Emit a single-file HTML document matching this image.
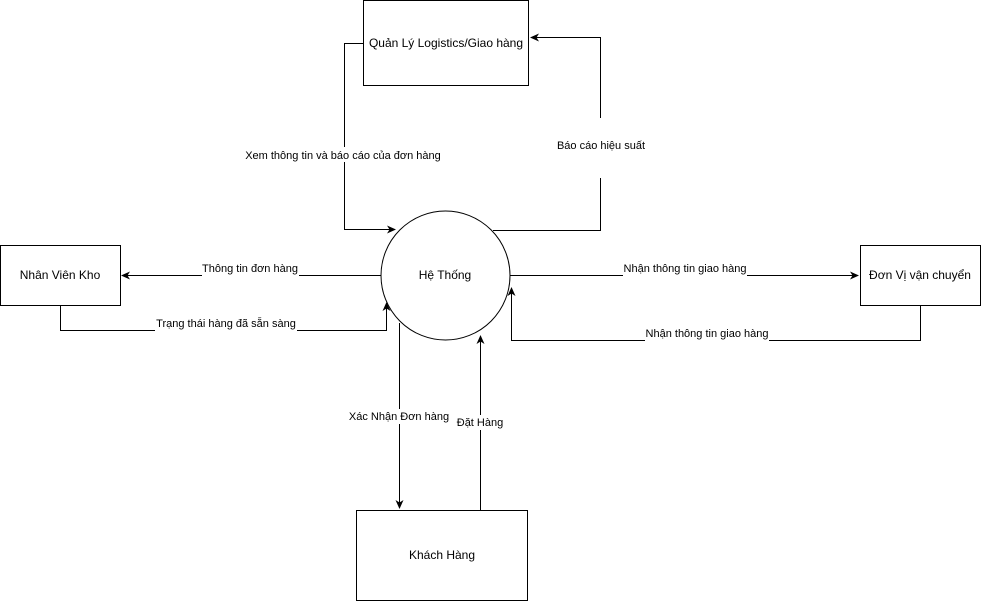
<!DOCTYPE html>
<html><head><meta charset="utf-8"><style>
html,body{margin:0;padding:0;background:#fff;}
svg{display:block;}
text{font-family:"Liberation Sans",Arial,sans-serif;font-size:12px;fill:#000;}
.l{font-size:11px;}
</style></head><body>
<svg width="981" height="601" viewBox="0 0 981 601" xmlns="http://www.w3.org/2000/svg">
<defs>
<marker id="a" markerWidth="10" markerHeight="10" refX="8" refY="5" orient="auto" markerUnits="userSpaceOnUse">
<path d="M0,1 L9,5 L0,9 L2.5,5 Z" fill="#000"/>
</marker>
</defs>
<g fill="#fff" stroke="#000" stroke-width="1">
<rect x="363.5" y="0.5" width="165" height="85"/>
<rect x="0.5" y="245.5" width="120" height="60"/>
<rect x="860.5" y="245.5" width="120" height="60"/>
<rect x="356.5" y="510.5" width="171" height="90"/>
<circle cx="445.5" cy="275.5" r="64.5"/>
</g>
<g fill="none" stroke="#000" stroke-width="1">
<polyline points="363,43.5 344.5,43.5 344.5,229.5 395,229.5" marker-end="url(#a)"/>
<polyline points="493,230.5 600.5,230.5 600.5,37.5 531,37.5" marker-end="url(#a)"/>
<line x1="381" y1="275.5" x2="122" y2="275.5" marker-end="url(#a)"/>
<polyline points="60.5,306 60.5,330.5 386.5,330.5 386.5,303" marker-end="url(#a)"/>
<line x1="510" y1="275.5" x2="858" y2="275.5" marker-end="url(#a)"/>
<polyline points="920.5,306 920.5,340.5 511.5,340.5 511.5,288" marker-end="url(#a)"/>
<line x1="399.5" y1="323" x2="399.5" y2="508" marker-end="url(#a)"/>
<line x1="480.5" y1="510" x2="480.5" y2="336" marker-end="url(#a)"/>
</g>
<g fill="#fff">
<rect x="243" y="147" width="202" height="15"/>
<rect x="600" y="118" width="1" height="60"/>
<rect x="202" y="262" width="97" height="15"/>
<rect x="155" y="317" width="142" height="15"/>
<rect x="623" y="262" width="124" height="15"/>
<rect x="645" y="327" width="124" height="15"/>
<rect x="348" y="409" width="104" height="15"/>
<rect x="456" y="415" width="50" height="15"/>
</g>
<g class="l">
<text x="343" y="159" text-anchor="middle" class="l">Xem thông tin và báo cáo của đơn hàng</text>
<text x="601" y="149" text-anchor="middle" class="l">Báo cáo hiệu suất</text>
<text x="250" y="272" text-anchor="middle" class="l">Thông tin đơn hàng</text>
<text x="226" y="327" text-anchor="middle" class="l">Trạng thái hàng đã sẵn sàng</text>
<text x="685" y="272" text-anchor="middle" class="l">Nhận thông tin giao hàng</text>
<text x="707" y="337" text-anchor="middle" class="l">Nhận thông tin giao hàng</text>
<text x="399" y="420" text-anchor="middle" class="l">Xác Nhận Đơn hàng</text>
<text x="480" y="426" text-anchor="middle" class="l">Đặt Hàng</text>
</g>
<text x="446" y="47" text-anchor="middle">Quản Lý Logistics/Giao hàng</text>
<text x="60" y="279" text-anchor="middle">Nhân Viên Kho</text>
<text x="920" y="279" text-anchor="middle">Đơn Vị vận chuyển</text>
<text x="445" y="279" text-anchor="middle">Hệ Thống</text>
<text x="442" y="559" text-anchor="middle">Khách Hàng</text>
</svg>
</body></html>
